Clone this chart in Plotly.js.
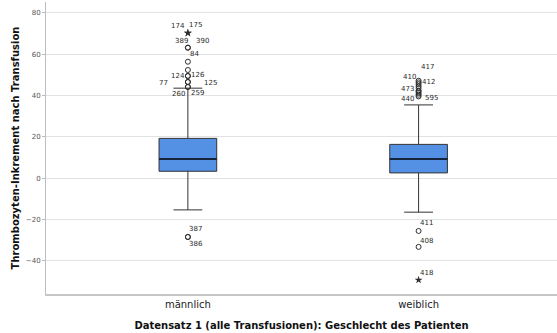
<!DOCTYPE html>
<html>
<head>
<meta charset="utf-8">
<script src="https://cdn.plot.ly/plotly-3.0.1.min.js"></script>
<style>
  html, body { margin: 0; padding: 0; background: #fff; }
  #chart { width: 557px; height: 333px; }
</style>
</head>
<body>
<div id="chart"></div>
<script>
// Groups on the x axis
const groups = ['männlich', 'weiblich'];

// Box statistics per group
const q1Values     = [3.4, 2.6];
const medianValues = [9.3, 9.3];
const q3Values     = [19.3, 16.4];
const lowerWhisker = [-15.3, -16.4];
const upperWhisker = [43.6, 35.5];

// Outliers (circles): group index, value, case number
const outGroup = [0, 0, 0, 0, 0, 0, 0, 0, 0, 0, 0, 0,
                  1, 1, 1, 1, 1, 1, 1, 1, 1, 1, 1, 1];
const outValue = [63.2, 63.2, 56.4, 52.4, 49.5, 49.5, 46.6, 46.6, 44.2, 44.2, -28.4, -28.4,
                  47.2, 45.6, 44.6, 43.6, 42.4, 42.0, 41.2, 40.4, 39.6, 46.4, -25.5, -33.2];
const outCase  = ['389', '390', '84', '', '124', '126', '77', '125', '260', '259', '387', '386',
                  '417', '410', '412', '', '473', '595', '', '', '440', '', '411', '408'];

// Extreme values (stars)
const extGroup = [0, 0, 1];
const extValue = [70.3, 70.3, -49.2];
const extCase  = ['174', '175', '418'];

// Case-number label offsets in pixels [x, y], one per outlier / extreme
const outShift = [[-6, 6.5], [15, 6.5], [7, 7.5], [0, 0], [-10, 0], [10, 1], [-24, -1], [23, -1], [-9, -7], [10, -6], [8, 8], [8, -7],
                  [9, 14], [-9, 7], [10, 4], [0, 0], [-11, 2], [13, -6.5], [0, 0], [0, 0], [-11, -2.5], [0, 0], [8, 8], [8, 6]];
const extShift = [[-10, 7], [8, 8], [8, 7]];

const boxWidth = 0.25;
const lineColor = '#2f2f2f';

const traces = [
  {
    type: 'box',
    x: groups,
    q1: q1Values,
    median: medianValues,
    q3: q3Values,
    lowerfence: lowerWhisker,
    upperfence: upperWhisker,
    boxpoints: false,
    width: boxWidth,
    whiskerwidth: 0.5,
    fillcolor: 'rgb(84,145,228)',
    line: { color: '#333', width: 1 },
    hoverinfo: 'skip',
    showlegend: false
  },
  // Heavier median bar drawn as a flat box
  {
    type: 'box',
    x: groups,
    q1: medianValues,
    median: medianValues,
    q3: medianValues,
    lowerfence: medianValues,
    upperfence: medianValues,
    boxpoints: false,
    width: boxWidth,
    whiskerwidth: 0,
    fillcolor: 'rgba(0,0,0,0)',
    line: { color: '#17243d', width: 2 },
    hoverinfo: 'skip',
    showlegend: false
  },
  {
    type: 'scatter',
    mode: 'markers',
    x: outGroup.map(i => groups[i]),
    y: outValue,
    marker: { symbol: 'circle-open', size: 5, color: lineColor, line: { width: 1, color: lineColor } },
    hoverinfo: 'skip',
    showlegend: false
  },
  {
    type: 'scatter',
    mode: 'markers',
    x: extGroup.map(i => groups[i]),
    y: extValue,
    marker: { symbol: 'star', size: 6, color: lineColor },
    hoverinfo: 'skip',
    showlegend: false
  }
];

const labelFont = { family: 'DejaVu Sans, sans-serif', size: 7, color: '#2a2a2a' };
const annotations = [];
outCase.forEach((c, k) => {
  if (!c) return;
  annotations.push({
    x: groups[outGroup[k]], y: outValue[k], text: c, showarrow: false,
    xshift: outShift[k][0], yshift: outShift[k][1], font: labelFont
  });
});
extCase.forEach((c, k) => {
  annotations.push({
    x: groups[extGroup[k]], y: extValue[k], text: c, showarrow: false,
    xshift: extShift[k][0], yshift: extShift[k][1], font: labelFont
  });
});

const layout = {
  width: 557,
  height: 333,
  margin: { l: 46, r: 0, t: 2, b: 39 },
  paper_bgcolor: '#fff',
  plot_bgcolor: '#fff',
  boxmode: 'overlay',
  showlegend: false,
  font: { family: 'DejaVu Sans, sans-serif', color: '#222' },
  xaxis: {
    type: 'category',
    range: [-0.615, 1.6],
    showgrid: false,
    zeroline: false,
    showline: true,
    linecolor: '#c6c6c6',
    linewidth: 2,
    ticks: '',
    tickfont: { size: 10, color: '#222' },
    title: { text: 'Datensatz 1 (alle Transfusionen): Geschlecht des Patienten',
             font: { size: 10, color: '#111', weight: 'bold' }, standoff: 13 }
  },
  yaxis: {
    range: [-56, 85.3],
    tickvals: [-40, -20, 0, 20, 40, 60, 80],
    showgrid: true,
    gridcolor: '#e2e2e2',
    gridwidth: 1,
    zeroline: false,
    showline: true,
    linecolor: '#bdbdbd',
    linewidth: 1,
    ticks: 'outside',
    ticklen: 3,
    tickcolor: '#bdbdbd',
    tickfont: { size: 7, color: '#555' },
    title: { text: 'Thrombozyten-Inkrement nach Transfusion',
             font: { size: 10, color: '#111', weight: 'bold' }, standoff: 4 }
  },
  annotations: annotations
};

Plotly.newPlot('chart', traces, layout, { staticPlot: true, displayModeBar: false });
</script>
</body>
</html>
